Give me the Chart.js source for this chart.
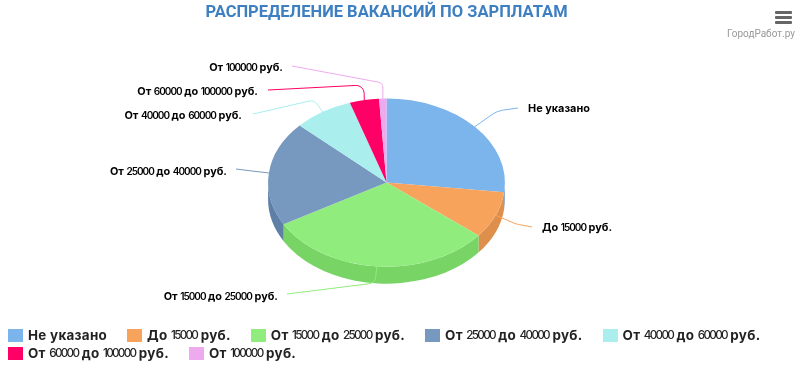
<!DOCTYPE html>
<html lang="ru">
<head>
<meta charset="utf-8">
<title>Распределение вакансий по зарплатам</title>
<script src="https://cdn.jsdelivr.net/npm/chart.js@4"></script>
<style>
    html, body { margin: 0; padding: 0; background: #fff; }
    #wrap { position: relative; width: 800px; height: 369px; overflow: hidden; }
    #salaryChart { position: absolute; left: 0; top: 0; }
    #menuIcon { position: absolute; left: 775px; top: 11px; width: 17px; }
    #menuIcon span { display: block; height: 3px; margin-bottom: 2px; background: #666; border-radius: 1px; }
    #credit { position: absolute; right: 5px; top: 28px; font: 10px Roboto, sans-serif; color: #999; }
    #legend {
        position: absolute; left: 8px; top: 326px; width: 790px;
        display: flex; flex-wrap: wrap; column-gap: 20px;
        font: bold 13.4px Inter, sans-serif; color: #222; letter-spacing: 0.3px;
    }
    #legend div { display: flex; align-items: center; height: 18px; white-space: pre; }
    #legend i { display: block; width: 15px; height: 13px; margin-right: 5px; }
    #legend b { font-size: 11.7px; font-weight: 500; letter-spacing: -1.7px; }
</style>
</head>
<body>
<div id="wrap">
    <canvas id="salaryChart" width="800" height="369"></canvas>
    <div id="menuIcon"><span></span><span></span><span></span></div>
    <div id="credit">ГородРабот.ру</div>
    <div id="legend"></div>
</div>
<script>
const categories = ['Не указано', 'До 15000 руб.', 'От 15000 до 25000 руб.', 'От 25000 до 40000 руб.', 'От 40000 до 60000 руб.', 'От 60000 до 100000 руб.', 'От 100000 руб.'];
const shares = [26.8, 9.0, 30.9, 20.1, 8.1, 4.0, 1.0];
const colors = ['#7cb5ec', '#f7a35c', '#90ed7d', '#7798bf', '#aaeeee', '#ff0066', '#eeaaee'];
const sideColors = ['#639cd3', '#de8f4b', '#78d465', '#5e7fa6', '#91d5d5', '#e6004d', '#d591d5'];

// 3d look
const tilt = 0.71;
const depth = 17;

// where each connector bends and ends, and where its label sits
const leaderElbows = [[497, 111], [516, 224], [375, 283], [252, 171], [314, 100], [364, 85], [383, 83]];
const leaderEnds = [[518, 108], [532, 227], [287, 294], [236, 169], [253, 114], [268, 90], [292, 66]];
const leaderRadii = [24, 24, 8, 8, 8, 8, 6];
const labelPos = [[528, 109], [542, 228], [278, 297], [227, 172], [242, 116], [258, 92], [283, 68]];

// the original font has small thin numerals, so digits are set apart from letters
const splitRuns = (text) => text.match(/\d+|\D+/g);
const isDigits = (run) => /^\d/.test(run);

function setLabelFont(ctx, run) {
    ctx.font = isDigits(run) ? '600 10px Inter, sans-serif' : 'bold 10.9px Inter, sans-serif';
    ctx.letterSpacing = isDigits(run) ? '-1px' : '0px';
}

function drawLabel(ctx, text, x, y, rightAligned) {
    const runs = splitRuns(text);
    const widths = runs.map((run) => {
        setLabelFont(ctx, run);
        return ctx.measureText(run).width;
    });
    let cursor = rightAligned ? x - widths.reduce((a, b) => a + b, 0) : x;
    runs.forEach((run, i) => {
        setLabelFont(ctx, run);
        ctx.fillText(run, cursor, y);
        cursor += widths[i];
    });
    ctx.letterSpacing = '0px';
}

const tiltedPie = {
    id: 'tiltedPie',
    beforeDatasetsDraw(chart) {
        const ctx = chart.ctx;
        const arcs = chart.getDatasetMeta(0).data;
        const cx = arcs[0].x, cy = arcs[0].y;
        ctx.save();
        ctx.translate(cx, cy);
        ctx.scale(1, tilt);
        ctx.translate(-cx, -cy);

        // side wall, only the front half of the pie shows it
        arcs.forEach((arc, i) => {
            const from = Math.max(arc.startAngle, 0);
            const to = Math.min(arc.endAngle, Math.PI);
            if (from >= to) return;
            ctx.beginPath();
            ctx.arc(cx, cy, arc.outerRadius, from, to);
            ctx.arc(cx, cy + depth / tilt, arc.outerRadius, to, from, true);
            ctx.closePath();
            ctx.fillStyle = sideColors[i];
            ctx.fill();
        });
    },
    afterDatasetsDraw(chart) {
        const ctx = chart.ctx;
        ctx.restore();

        const arcs = chart.getDatasetMeta(0).data;
        ctx.save();
        ctx.textBaseline = 'middle';
        ctx.textAlign = 'left';
        arcs.forEach((arc, i) => {
            const mid = (arc.startAngle + arc.endAngle) / 2;
            const ax = arc.x + Math.cos(mid) * arc.outerRadius;
            const ay = arc.y + Math.sin(mid) * arc.outerRadius * tilt;

            ctx.beginPath();
            ctx.moveTo(ax, ay);
            ctx.arcTo(leaderElbows[i][0], leaderElbows[i][1], leaderEnds[i][0], leaderEnds[i][1], leaderRadii[i]);
            ctx.lineTo(leaderEnds[i][0], leaderEnds[i][1]);
            ctx.strokeStyle = colors[i];
            ctx.lineWidth = 1;
            ctx.stroke();

            ctx.fillStyle = '#000';
            drawLabel(ctx, categories[i], labelPos[i][0], labelPos[i][1], labelPos[i][0] < arc.x);
        });
        ctx.restore();
    }
};

function buildLegend() {
    const box = document.getElementById('legend');
    categories.forEach((name, i) => {
        const item = document.createElement('div');
        const swatch = document.createElement('i');
        swatch.style.background = colors[i];
        item.appendChild(swatch);
        splitRuns(name).forEach((run) => {
            if (isDigits(run)) {
                const digits = document.createElement('b');
                digits.textContent = run;
                item.appendChild(digits);
            } else {
                item.appendChild(document.createTextNode(run));
            }
        });
        box.appendChild(item);
    });
}

document.addEventListener('DOMContentLoaded', () => {
    buildLegend();
    new Chart(document.getElementById('salaryChart').getContext('2d'), {
        type: 'pie',
        data: {
            labels: categories,
            datasets: [{
                data: shares,
                backgroundColor: colors,
                borderWidth: 0,
                clip: false
            }]
        },
        options: {
            responsive: false,
            animation: false,
            layout: { padding: { right: 27, bottom: 68 } },
            plugins: {
                legend: { display: false },
                tooltip: { enabled: false },
                title: {
                    display: true,
                    text: 'РАСПРЕДЕЛЕНИЕ ВАКАНСИЙ ПО ЗАРПЛАТАМ',
                    color: '#3d7fc1',
                    font: { family: 'Roboto, sans-serif', size: 16.5, weight: 'bold' },
                    padding: { top: 3, bottom: 41.4 }
                }
            }
        },
        plugins: [tiltedPie]
    });
});
</script>
</body>
</html>
